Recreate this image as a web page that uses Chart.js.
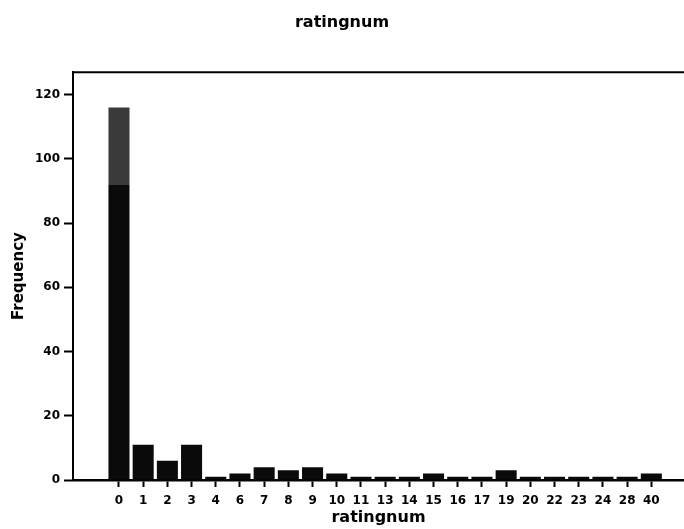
<!DOCTYPE html>
<html>
<head>
<meta charset="utf-8">
<script src="https://cdn.jsdelivr.net/npm/chart.js@4"></script>
<style>
  html, body { margin: 0; padding: 0; background: #fff; }
  #wrap { width: 684px; height: 529px; position: relative; }
</style>
</head>
<body>
<div id="wrap"><canvas id="myChart"></canvas></div>
<script>
// ratingnum categories and their frequencies
const categories = ['0', '1', '2', '3', '4', '6', '7', '8', '9', '10', '11', '13', '14', '15', '16', '17', '19', '20', '22', '23', '24', '28', '40'];
const frequencies = [116, 11, 6, 11, 1, 2, 4, 3, 4, 2, 1, 1, 1, 2, 1, 1, 3, 1, 1, 1, 1, 1, 2];
const yTicks = [0, 20, 40, 60, 80, 100, 120];

const ctx = document.getElementById('myChart');

Chart.defaults.color = 'black';
Chart.defaults.font.family = '"DejaVu Sans", "Liberation Sans", sans-serif';
Chart.defaults.font.weight = 'bold';
Chart.defaults.font.size = 12;

// top frame line
const topLine = {
  id: 'topLine',
  afterDraw(chart) {
    const a = chart.chartArea;
    const c = chart.ctx;
    c.save();
    c.strokeStyle = 'black';
    c.lineWidth = 2;
    c.beginPath();
    c.moveTo(a.left - 1, a.top);
    c.lineTo(a.right, a.top);
    c.stroke();
    c.restore();
  }
};

function barColor(context) {
  const chart = context.chart;
  const a = chart.chartArea;
  if (!a) return '#0a0a0a';
  const y = chart.scales.y;
  const split = y.getPixelForValue(92);
  const g = chart.ctx.createLinearGradient(0, a.top, 0, a.bottom);
  const f = Math.min(Math.max((split - a.top) / (a.bottom - a.top), 0), 1);
  g.addColorStop(0, '#3a3a3a');
  g.addColorStop(f, '#3a3a3a');
  g.addColorStop(f, '#0a0a0a');
  g.addColorStop(1, '#0a0a0a');
  return g;
}

new Chart(ctx, {
  type: 'bar',
  data: {
    datasets: [{
      data: frequencies.map((v, i) => ({ x: i, y: v })),
      backgroundColor: barColor,
      borderWidth: 0,
      barPercentage: 0.87,
      categoryPercentage: 1,
    }],
  },
  options: {
    responsive: true,
    maintainAspectRatio: false,
    animation: false,
    layout: { padding: 0 },
    scales: {
      x: {
        type: 'linear',
        offset: false,
        min: -1.9,
        max: 23.35,
        afterBuildTicks: (scale) => {
          scale.ticks = categories.map((c, i) => ({ value: i }));
        },
        afterFit: (scale) => { scale.height = 49; },
        ticks: {
          autoSkip: false,
          maxRotation: 0,
          padding: 7,
          font: { size: 12 },
          callback: (v) => categories[v],
        },
        grid: {
          offset: false,
          drawOnChartArea: false,
          drawTicks: true,
          tickLength: 7,
          tickWidth: 2,
          tickColor: 'black',
        },
        border: { display: true, color: 'black', width: 2.5 },
        title: {
          display: true,
          text: 'ratingnum',
          font: { size: 16, weight: 'bold' },
          padding: { top: 0, bottom: 2 },
        },
      },
      y: {
        min: 0,
        max: 127,
        afterBuildTicks: (scale) => {
          scale.ticks = yTicks.map(v => ({ value: v }));
        },
        afterFit: (scale) => { scale.width = 73; },
        ticks: { padding: 4, font: { size: 12 } },
        grid: {
          drawOnChartArea: false,
          drawTicks: true,
          tickLength: 9,
          tickWidth: 2,
          tickColor: 'black',
        },
        border: { display: true, color: 'black', width: 2 },
        title: {
          display: true,
          text: 'Frequency',
          font: { size: 15, weight: 'bold' },
          padding: { top: 10, bottom: 0 },
        },
      },
    },
    plugins: {
      legend: false,
      tooltip: { enabled: false },
      title: {
        display: true,
        text: 'ratingnum',
        font: { size: 16, weight: 'bold' },
        padding: { top: 13, bottom: 40 },
        color: 'black',
      },
    },
  },
  plugins: [topLine],
});
</script>
</body>
</html>
